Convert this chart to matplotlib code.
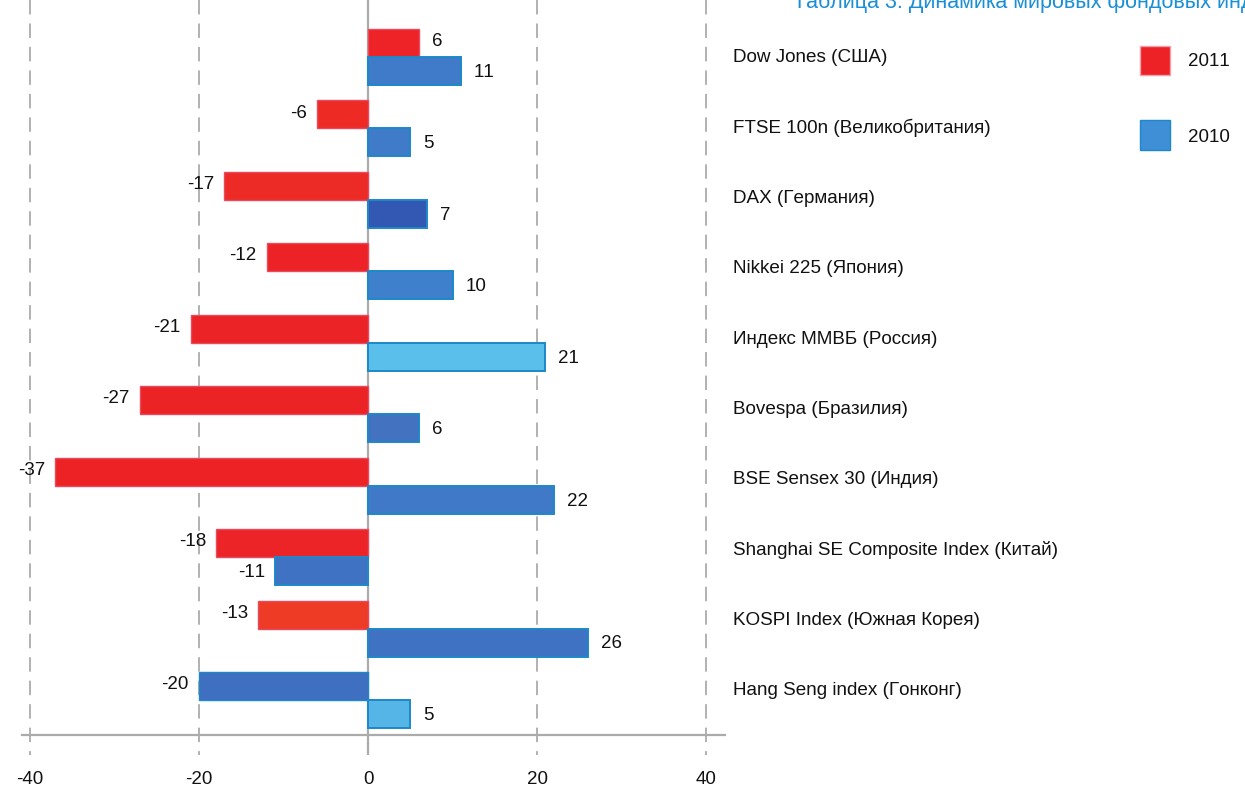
import matplotlib
matplotlib.use("Agg")
import matplotlib.pyplot as plt
from matplotlib.patches import Rectangle

plt.rcParams['font.family'] = ['Liberation Sans', 'DejaVu Sans']
plt.rcParams['text.kerning_factor'] = 10

categories = ["Dow Jones (США)", "FTSE 100n (Великобритания)", "DAX (Германия)",
              "Nikkei 225 (Япония)", "Индекс ММВБ (Россия)", "Bovespa (Бразилия)",
              "BSE Sensex 30 (Индия)", "Shanghai SE Composite Index (Китай)",
              "KOSPI Index (Южная Корея)", "Hang Seng index (Гонконг)"]
values_2011 = [6, -6, -17, -12, -21, -27, -37, -18, -13, -20]
values_2010 = [11, 5, 7, 10, 21, 6, 22, -11, 26, 5]
ticks = [-40, -20, 0, 20, 40]
title = "Таблица 3. Динамика мировых фондовых индексов, %"

colors_2011 = ["#ED2327", "#EE2A24", "#EC2A26", "#EC2227", "#EC2326",
               "#EC2325", "#EC2225", "#EC2327", "#EE3B25", "#3E6FC0"]
edges_2011 = ["#E84B5E"] * 9 + ["#1E88C8"]
colors_2010 = ["#3F7BC8", "#3F7BC8", "#3258B4", "#3F80CC", "#5BBFEB",
               "#4272C0", "#3F79C7", "#3F72C2", "#3F72C2", "#55B5E6"]
edge_2010 = "#1E88C8"

W, H = 1245, 787
fig = plt.figure(figsize=(W / 100, H / 100), dpi=100)
ax = fig.add_axes([0, 0, 1, 1])
ax.set_axis_off()

# pixel-to-data mapping: x px = 368 + 8.45*v ; y px = 57 + 71.44*i
sx, x0 = 8.45, 368.0
sy, y0 = 71.44, 57.0
ax.set_xlim(-x0 / sx, (W - x0) / sx)
ax.set_ylim((H - y0) / sy, -y0 / sy)

grid_c = "#ABABAB"
ybot = (755 - y0) / sy
ytop = -y0 / sy
for t in ticks:
    if t == 0:
        ax.plot([t, t], [ytop, ybot], color=grid_c, lw=1.6, solid_capstyle='butt', zorder=1)
    else:
        ax.plot([t, t], [ytop, ybot], color=grid_c, lw=1.3, dashes=(8, 5), zorder=1)
    ax.text(t, (779 - y0) / sy, str(t), ha='center', va='center', fontsize=13.5, color='#111111')

ax.plot([(22 - x0) / sx, (725 - x0) / sx], [(735 - y0) / sy] * 2, color=grid_c, lw=1.6, zorder=1)

bh = 28 / sy
ypos = list(range(len(categories)))
ax.barh([y - bh / 2 for y in ypos], values_2011, height=bh, color=colors_2011,
        edgecolor=edges_2011, linewidth=1.0, zorder=2)
ax.barh([y + bh / 2 for y in ypos], values_2010, height=bh, color=colors_2010,
        edgecolor=edge_2010, linewidth=1.4, zorder=2)

def label(v, y):
    off = 13 if v >= 0 else -10
    ax.annotate(str(v), (v, y), xytext=(off, 0), textcoords='offset pixels',
                ha='left' if v >= 0 else 'right', va='center', fontsize=13.5, color='#111111')

for y, v1, v0 in zip(ypos, values_2011, values_2010):
    label(v1, y - bh / 2 - 0.02)
    label(v0, y + bh / 2 + 0.02)

# category labels: slightly tighter pitch than the bar groups
for y, c in zip(ypos, categories):
    ly = (58 + 70.3 * y - y0) / sy
    ax.text((733 - x0) / sx, ly, c, ha='left', va='center', fontsize=13.6, color='#111111')

# legend
def fx(px): return px / W
def fy(py): return 1 - py / H
fig.add_artist(Rectangle((fx(1140), fy(75)), 30 / W, 29 / H, transform=fig.transFigure,
                         facecolor="#EC2227", edgecolor="#F0A0A8", lw=1))
fig.add_artist(Rectangle((fx(1140), fy(150)), 30 / W, 30 / H, transform=fig.transFigure,
                         facecolor="#3E8FD6", edgecolor="#1E88C8", lw=1))
fig.text(fx(1188), fy(61), "2011", ha='left', va='center', fontsize=13.5, color='#111111')
fig.text(fx(1188), fy(138), "2010", ha='left', va='center', fontsize=13.5, color='#111111')

fig.text(fx(793), fy(8), title, ha='left', va='baseline', fontsize=15.5, color='#1A8FD6')

fig.savefig("out.png", dpi=100)
